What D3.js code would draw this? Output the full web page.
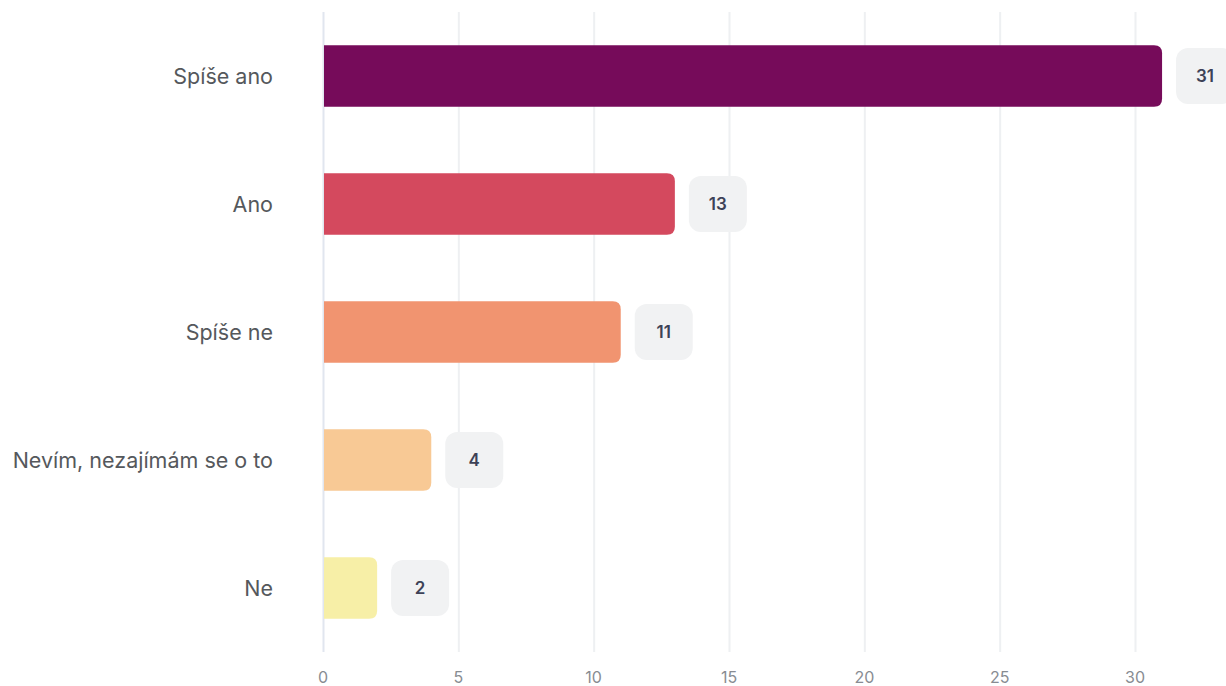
<!DOCTYPE html>
<html>
<head>
<meta charset="utf-8">
<script src="https://cdn.jsdelivr.net/npm/d3@7"></script>
<style>
  body { margin: 0; background: #fff; }
  svg { display: block; font-family: Inter, "Noto Sans", sans-serif; }
</style>
</head>
<body>
<div id="chart"></div>
<script>
const categories = ["Spíše ano", "Ano", "Spíše ne", "Nevím, nezajímám se o to", "Ne"];
const values = [31, 13, 11, 4, 2];
const colors = ["#760b5a", "#d4495e", "#f19470", "#f8c995", "#f7efa7"];
const ticks = [0, 5, 10, 15, 20, 25, 30];

const width = 1226, height = 686;
const margin = {top: 12, right: 0, bottom: 34, left: 323};

const svg = d3.select("#chart").append("svg")
    .attr("width", width)
    .attr("height", height);

const x = d3.scaleLinear()
    .domain([0, 30])
    .range([margin.left, 1135]);

const y = d3.scaleBand()
    .domain(categories)
    .range([margin.top, height - margin.bottom])
    .paddingInner(0.52)
    .paddingOuter(0.26);

// gridlines
svg.append("g")
    .selectAll("line")
    .data(ticks)
    .join("line")
    .attr("x1", d => x(d) + 0.5)
    .attr("x2", d => x(d) + 0.5)
    .attr("y1", margin.top)
    .attr("y2", height - margin.bottom)
    .attr("stroke", d => d === 0 ? "#e1e6ef" : "#eef0f2")
    .attr("stroke-width", 2);

// tick labels
svg.append("g")
    .selectAll("text")
    .data(ticks)
    .join("text")
    .attr("x", d => x(d))
    .attr("y", 683)
    .attr("text-anchor", "middle")
    .attr("font-size", 16)
    .attr("fill", "#888c92")
    .text(d => d);

// category labels
svg.append("g")
    .selectAll("text")
    .data(categories)
    .join("text")
    .attr("x", 273)
    .attr("y", d => y(d) + y.bandwidth() / 2)
    .attr("dy", "0.35em")
    .attr("text-anchor", "end")
    .attr("font-size", 21.5)
    .attr("fill", "#55585c")
    .text(d => d);

// bars, square on the left, rounded on the right
const r = 8;
function barPath(x0, x1, y0, h) {
    const rr = Math.min(r, (x1 - x0));
    return `M${x0},${y0}H${x1 - rr}Q${x1},${y0} ${x1},${y0 + rr}V${y0 + h - rr}Q${x1},${y0 + h} ${x1 - rr},${y0 + h}H${x0}Z`;
}

svg.append("g")
    .selectAll("path")
    .data(categories)
    .join("path")
    .attr("d", (d, i) => barPath(x(0) + 1, x(values[i]), y(d), y.bandwidth()))
    .attr("fill", (d, i) => colors[i]);

// value bubbles
const bubbles = svg.append("g")
    .selectAll("g")
    .data(categories)
    .join("g")
    .attr("transform", (d, i) => `translate(${x(values[i]) + 14}, ${y(d) + y.bandwidth() / 2})`);

bubbles.append("rect")
    .attr("x", 0)
    .attr("y", -28)
    .attr("width", 58)
    .attr("height", 56)
    .attr("rx", 12)
    .attr("fill", "#f1f2f3");

bubbles.append("text")
    .attr("x", 29)
    .attr("dy", "0.35em")
    .attr("text-anchor", "middle")
    .attr("font-size", 17)
    .attr("font-weight", 600)
    .attr("fill", "#3d4257")
    .text((d, i) => values[i]);
</script>
</body>
</html>
